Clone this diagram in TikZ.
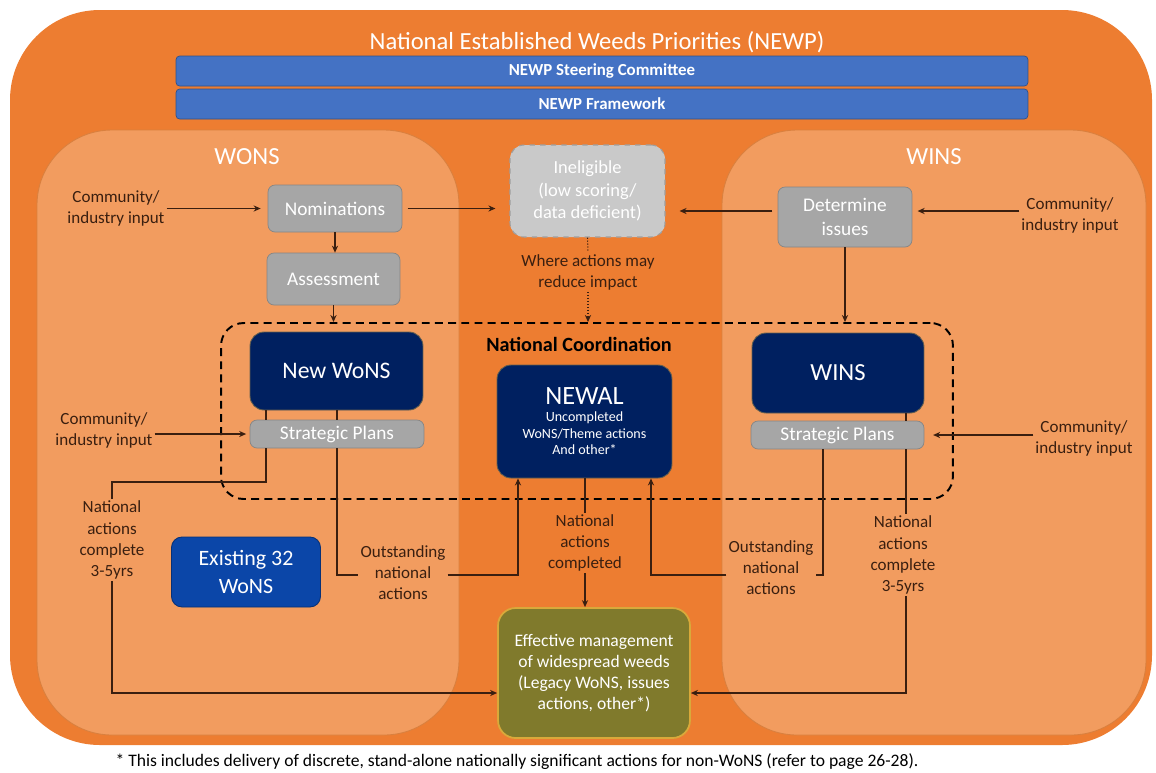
\documentclass[tikz,border=0pt]{standalone}
\usepackage{fontspec}
\setmainfont{Carlito}
\usetikzlibrary{positioning,arrows.meta,calc}
\definecolor{weedorange}{HTML}{ED7D31}
\definecolor{weedpanel}{HTML}{F29C5F}
\definecolor{weededge}{HTML}{D9803F}
\definecolor{weedgray}{HTML}{A6A6A6}
\definecolor{weedpale}{HTML}{C9C9C9}
\definecolor{weednavy}{HTML}{002060}
\definecolor{weedblue}{HTML}{4472C4}
\definecolor{weedroyal}{HTML}{0B46A8}
\definecolor{weedolive}{HTML}{807A2C}
\definecolor{weedgold}{HTML}{D9A93A}
\definecolor{weedink}{HTML}{3A1F10}

\begin{document}
\begin{tikzpicture}[x=0.02cm,y=-0.02cm,
    lbl/.style={align=center,text=weedink,inner sep=1pt,
                font=\fontsize{9.7}{12}\selectfont},
    graybox/.style={rectangle,rounded corners=4pt,fill=weedgray,
                    draw=weedgray!80!black,line width=0.4pt,text=white,
                    align=center,inner sep=1pt,font=\fontsize{11}{14}\selectfont},
    navybox/.style={rectangle,rounded corners=8pt,fill=weednavy,
                    draw=weedgold!45!weednavy,line width=0.5pt,text=white,
                    align=center,inner sep=1pt},
    bar/.style={rectangle,rounded corners=2pt,fill=weedblue,
                draw=weedblue!70!black,line width=0.4pt,text=white,
                minimum width=17.04cm,minimum height=0.6cm,
                font=\bfseries\fontsize{9.6}{11}\selectfont},
    paneltitle/.style={text=white,font=\fontsize{14}{16}\selectfont},
    arr/.style={-{Stealth[length=4pt,width=3.5pt]},weedink,line width=0.7pt},
    ln/.style={weedink,line width=0.7pt},
    dotarr/.style={arr,densely dotted,line width=0.6pt}]
  \useasboundingbox (0,0) rectangle (1156,772);

  % background and the two programme panels
  \fill[weedorange,rounded corners=1.8cm] (10,10) rectangle (1152,745);
  \draw[weededge,fill=weedpanel,line width=0.5pt,rounded corners=1.5cm]
        (37,130) rectangle (459,735);
  \draw[weededge,fill=weedpanel,line width=0.5pt,rounded corners=1.5cm]
        (722,130) rectangle (1146,735);

  \node[text=white,font=\fontsize{14}{16}\selectfont] (title) at (597,42)
        {National Established Weeds Priorities (NEWP)};
  \node[bar] (steer) at (602,71) {NEWP Steering Committee};
  \node[bar] (frame) at (602,104) {NEWP Framework};
  \node[paneltitle] (wonsT) at (247,157) {WONS};
  \node[paneltitle] (winsT) at (934,157) {WINS};

  % national coordination
  \node[draw=black,dash pattern=on 4.5pt off 3pt,line width=1.1pt,
        rounded corners=0.45cm,minimum width=14.64cm,minimum height=3.52cm]
        (nc) at (587,411) {};
  \node[font=\bfseries\fontsize{11.5}{13}\selectfont,text=black] (ncT)
        at (579,344) {National Coordination};

  \node[graybox,minimum width=2.68cm,minimum height=0.94cm] (nom)
        at (335,208.5) {Nominations};
  \node[graybox,minimum width=2.66cm,minimum height=1.04cm] (assess)
        at (333.5,279) {Assessment};
  \node[graybox,fill=weedpale,draw=gray!75,dashed,line width=0.6pt,
        rounded corners=8pt,font=\fontsize{10.5}{13}\selectfont,
        minimum width=3.1cm,minimum height=1.84cm] (inel)
        at (587.5,191) {Ineligible\\(low scoring/\\data deficient)};
  \node[graybox,minimum width=2.68cm,minimum height=1.2cm] (det)
        at (845,217) {Determine\\issues};

  \node[navybox,minimum width=3.46cm,minimum height=1.56cm,
        font=\fontsize{13.5}{16}\selectfont] (newwons) at (336.5,371) {New WoNS};
  \node[graybox,minimum width=3.48cm,minimum height=0.56cm] (spL)
        at (337,434) {Strategic Plans};
  \node[navybox,minimum width=3.5cm,minimum height=2.26cm,
        font=\fontsize{8}{9.5}\selectfont] (newal) at (584.5,421.5)
        {\fontsize{15}{18}\selectfont NEWAL\\\fontsize{8}{9.5}\selectfont
         Uncompleted\\WoNS/Theme actions\\And other*};
  \node[navybox,minimum width=3.44cm,minimum height=1.6cm,
        font=\fontsize{14}{16}\selectfont] (wins) at (838,373) {WINS};
  \node[graybox,minimum width=3.46cm,minimum height=0.56cm] (spR)
        at (837.5,435) {Strategic Plans};

  \node[navybox,fill=weedroyal,draw=weedroyal!70!black,rounded corners=6pt,
        minimum width=2.98cm,minimum height=1.4cm,
        font=\fontsize{12.5}{16}\selectfont] (exist) at (246,572)
        {Existing 32\\WoNS};
  \node[rectangle,rounded corners=10pt,fill=weedolive,draw=weedgold,
        line width=1pt,text=white,align=center,inner sep=1pt,
        minimum width=3.84cm,minimum height=2.6cm,
        font=\fontsize{10}{12}\selectfont] (eff) at (594,673)
        {Effective management\\of widespread weeds\\(Legacy WoNS, issues\\actions, other*)};

  % labels
  \node[lbl] (inL1) at (116,208) {Community/\\industry input};
  \node[lbl] (inR1) at (1070,215) {Community/\\industry input};
  \node[lbl] (inL2) at (104,430) {Community/\\industry input};
  \node[lbl] (inR2) at (1084,438) {Community/\\industry input};
  \node[lbl] (reduce) at (588,272) {Where actions may\\reduce impact};
  \node[lbl] (natL) at (112,540) {National\\actions\\complete\\3-5yrs};
  \node[lbl] (outL) at (403,573) {Outstanding\\national\\actions};
  \node[lbl] (natC) at (585,543) {National\\actions\\completed};
  \node[lbl] (outR) at (771,568) {Outstanding\\national\\actions};
  \node[lbl] (natR) at (903,555) {National\\actions\\complete\\3-5yrs};

  \node[text=black,font=\fontsize{10}{12}\selectfont] (note) at (517,762)
        {* This includes delivery of discrete, stand-alone nationally significant actions for non-WoNS (refer to page 26-28).};

  \coordinate (xL1) at (266,0);
  \coordinate (xL2) at (337,0);
  \coordinate (xN1) at (518,0);
  \coordinate (xN2) at (651,0);
  \coordinate (xR1) at (823,0);
  \coordinate (xR2) at (906,0);
  \coordinate (yA) at (0,211);
  \coordinate (yB) at (0,482);
  \coordinate (yC) at (0,693);
  \coordinate (yD) at (0,575);

  % connectors
  \draw[arr,shorten >=4pt] (inL1.east |- nom.west) -- (nom.west);
  \draw[arr,shorten <=3pt,shorten >=8pt] (nom.east) -- (nom.east -| inel.west);
  \draw[arr,shorten <=3pt,shorten >=8pt] (det.west |- yA) -- (inel.east |- yA);
  \draw[arr,shorten >=3pt] (inR1.west |- yA) -- (det.east |- yA);
  \draw[arr] (nom.south) -- (nom.south |- assess.north);
  \draw[arr] (assess.south) -- (assess.south |- nc.north);
  \draw[arr] (det.south) -- (det.south |- nc.north);
  \draw[ln,densely dotted,line width=0.6pt] (inel.south) -- (reduce.north);
  \draw[dotarr] (reduce.south) -- (reduce.south |- nc.north);
  \draw[arr,shorten >=2pt] (inL2.east |- spL.west) -- (spL.west);
  \draw[arr,shorten >=5pt] (inR2.west |- spR.east) -- (spR.east);

  \draw[ln] (newwons.south -| xL1) -- (spL.north -| xL1);
  \draw[ln] (spL.south -| xL1) -- (xL1 |- yB) -| (natL.north);
  \draw[arr] (natL.south) |- (eff.west |- yC);
  \draw[ln] (newwons.south -| xL2) -- (spL.north -| xL2);
  \draw[ln] (spL.south -| xL2) |- (outL.west |- yD);
  \draw[arr] (outL.east |- yD) -| (newal.south -| xN1);
  \draw[ln] (newal.south -| natC.north) -- (natC.north);
  \draw[arr] (natC.south) -- (natC.south |- eff.north);
  \draw[ln] (spR.south -| xR1) |- (outR.east |- yD);
  \draw[arr] (outR.west |- yD) -| (newal.south -| xN2);
  \draw[ln] (wins.south -| xR2) -- (spR.north -| xR2);
  \draw[ln] (spR.south -| xR2) -- (xR2 |- natR.north);
  \draw[arr] (xR2 |- natR.south) |- (eff.east |- yC);
\end{tikzpicture}
\end{document}
